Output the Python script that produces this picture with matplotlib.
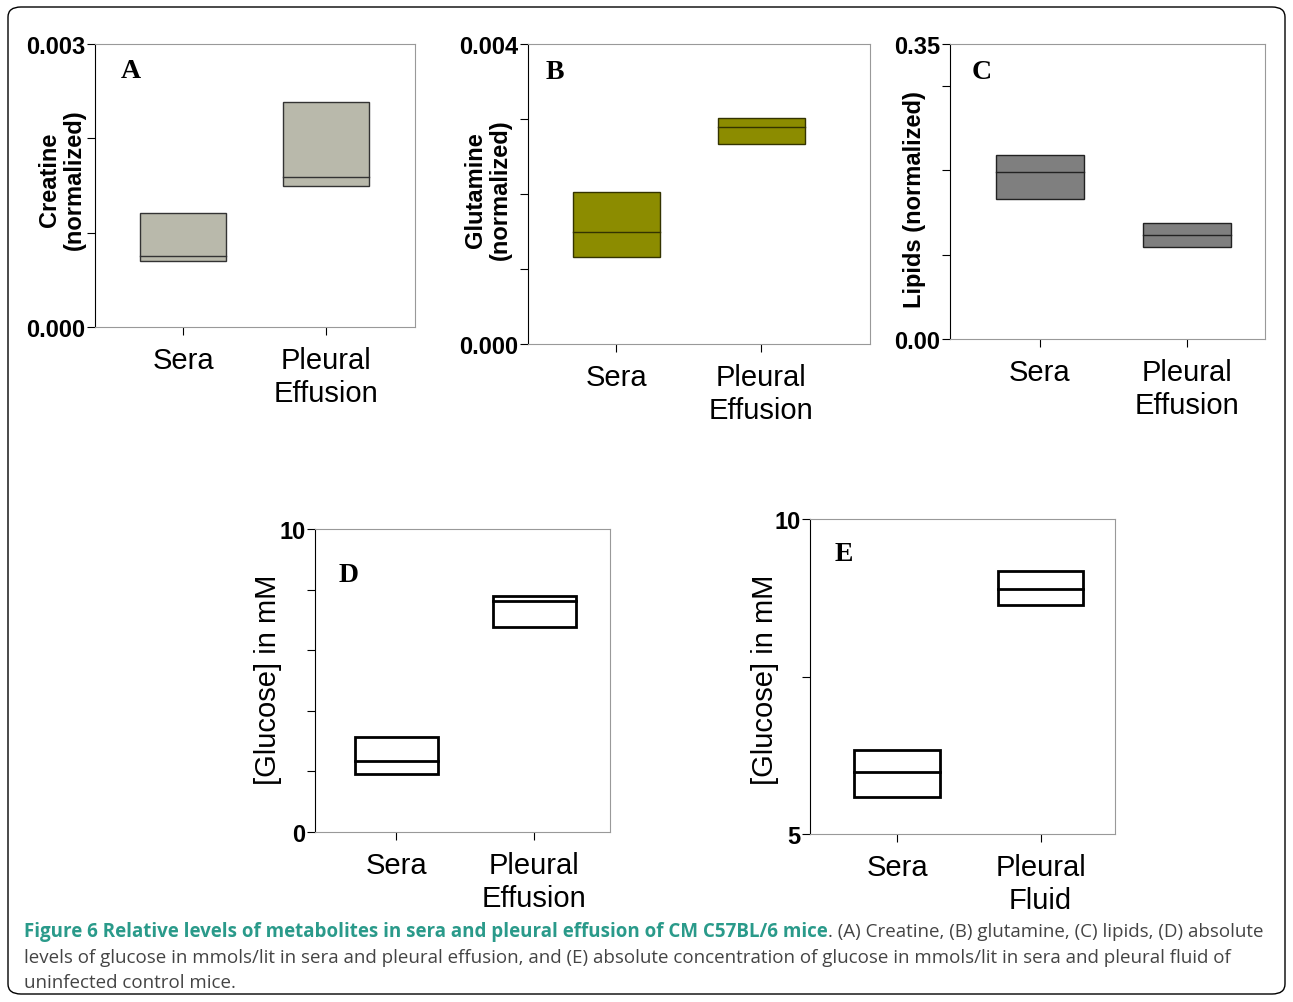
import matplotlib
matplotlib.use("Agg")
import matplotlib.pyplot as plt
from matplotlib.patches import FancyBboxPatch

cats = ["Sera", "Pleural\nEffusion"]
cats_e = ["Sera", "Pleural\nFluid"]
# (low, median, high) per category
creatine = [(0.00070, 0.00075, 0.00121), (0.00149, 0.00159, 0.00239)]
glutamine = [(0.00116, 0.00149, 0.00203), (0.00267, 0.00289, 0.00301)]
lipids = [(0.166, 0.198, 0.218), (0.109, 0.123, 0.1376)]
glucose_d = [(1.92, 2.34, 3.14), (6.77, 7.62, 7.79)]
glucose_e = [(5.59, 5.98, 6.33), (8.63, 8.89, 9.17)]

W, H = 1293, 1003
fig = plt.figure(figsize=(W/100, H/100), dpi=100)
plt.rcParams['font.family'] = ['Liberation Sans', 'DejaVu Sans']

def ax_px(l, r, t, b):
    return fig.add_axes([l/W, 1-b/H, (r-l)/W, (b-t)/H])

def panel(px, data, labels, ylim, yticks, ylabs, ticklabs, color, ec, lw, letter, lpos, xl, bold, ylab_pos):
    ax = ax_px(*px)
    for i, (lo, med, hi) in enumerate(data):
        ax.bar(i, hi-lo, bottom=lo, width=0.6, color=color, edgecolor=ec, linewidth=lw)
        ax.plot([i-0.3, i+0.3], [med, med], color=ec, lw=lw)
    ax.set_xlim(*xl)
    ax.set_ylim(*ylim)
    ax.set_yticks(yticks)
    ax.set_yticklabels(ticklabs, fontsize=17, fontweight='bold')
    ax.set_xticks([0, 1])
    ax.set_xticklabels(labels, fontsize=21, linespacing=1.2, va='top', ha='center')
    ax.tick_params(axis='x', length=6, pad=8)
    ax.tick_params(axis='y', length=6, direction='out', pad=1)
    for s in ['top', 'right', 'bottom']:
        ax.spines[s].set_color('#999999')
    ax.spines['left'].set_color('black')
    ax.text(lpos[0], lpos[1], letter, transform=ax.transAxes, fontsize=20,
            fontweight='bold', family='Liberation Serif', va='top')
    fig.text(ylab_pos[0]/W, 1-ylab_pos[1]/H, ylabs, rotation=90, ha='center', va='center',
             fontsize=17 if bold else 21, fontweight='bold' if bold else 'normal', linespacing=1.1)
    return ax

panel((95, 415, 45, 328), creatine, cats, (0, 0.003), [0, 0.001, 0.002, 0.003], "Creatine\n(normalized)",
      ["0.000", "", "", "0.003"], '#b9b9ab', '#333333', 1.0, 'A', (0.08, 0.95), (-0.615, 1.62), True, (62, 180))
panel((528, 870, 45, 345), glutamine, cats, (0, 0.004), [0, 0.001, 0.002, 0.003, 0.004], "Glutamine\n(normalized)",
      ["0.000", "", "", "", "0.004"], '#8c8c00', '#333300', 1.0, 'B', (0.05, 0.95), (-0.61, 1.75), True, (488, 190))
panel((950, 1265, 45, 340), lipids, cats, (0, 0.35), [0, 0.1, 0.2, 0.3, 0.35], "Lipids (normalized)",
      ["0.00", "", "", "", "0.35"], '#7f7f7f', '#222222', 1.0, 'C', (0.07, 0.95), (-0.61, 1.53), True, (915, 200))
panel((315, 610, 530, 833), glucose_d, cats, (0, 10), [0, 2, 4, 6, 8, 10], "[Glucose] in mM",
      ["0", "", "", "", "", "10"], 'white', 'black', 2.0, 'D', (0.08, 0.89), (-0.59, 1.55), False, (268, 680))
panel((810, 1115, 520, 835), glucose_e, cats_e, (5, 10), [5, 7.5, 10], "[Glucose] in mM",
      ["5", "", "10"], 'white', 'black', 2.0, 'E', (0.08, 0.93), (-0.61, 1.52), False, (765, 680))

fig.patches.append(FancyBboxPatch((8/W, 8/H), 1-16/W, 1-16/H, boxstyle="round,pad=0,rounding_size=0.01",
                                  transform=fig.transFigure, fill=False, ec='black', lw=1))

fs = 13.5
t = fig.text(24/W, 1-932/H, "Figure 6 Relative levels of metabolites in sera and pleural effusion of CM C57BL/6 mice",
             fontsize=fs, fontweight='bold', color='#2a9a8a', va='center', family='Open Sans')
fig.canvas.draw()
bb = t.get_window_extent(fig.canvas.get_renderer())
fig.text(bb.x1/W, 1-932/H, ". (A) Creatine, (B) glutamine, (C) lipids, (D) absolute", fontsize=fs, color='#444444', va='center', family='Open Sans')
fig.text(24/W, 1-958/H, "levels of glucose in mmols/lit in sera and pleural effusion, and (E) absolute concentration of glucose in mmols/lit in sera and pleural fluid of",
         fontsize=fs, color='#444444', va='center', family='Open Sans')
fig.text(24/W, 1-983/H, "uninfected control mice.", fontsize=fs, color='#444444', va='center', family='Open Sans')

fig.savefig("out.png", dpi=100)
